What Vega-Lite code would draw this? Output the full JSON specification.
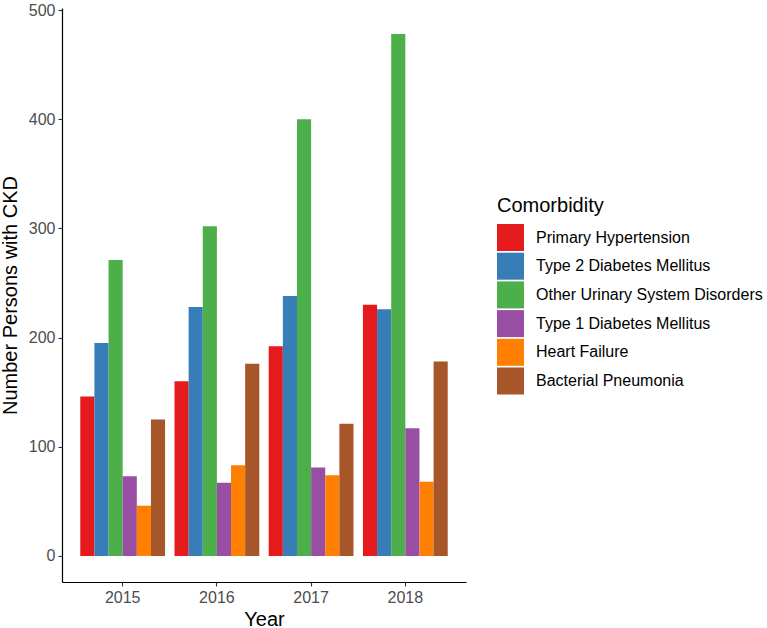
{
  "$schema": "https://vega.github.io/schema/vega-lite/v6.json",
  "width": 404,
  "height": 574,
  "autosize": {"type": "none"},
  "padding": {"left": 62, "top": 8, "right": 301, "bottom": 46},
  "background": "white",
  "config": {
    "font": "Liberation Sans",
    "view": {"stroke": null},
    "axis": {"grid": false, "domainColor": "black", "domainWidth": 1.2, "tickColor": "#333333", "tickWidth": 1.1, "tickSize": 4, "labelColor": "#4D4D4D", "labelFontSize": 16, "titleFontSize": 20, "titleFontWeight": "normal", "titleColor": "black", "labelFont": "Liberation Sans", "titleFont": "Liberation Sans"}
  },
  "data": {
    "values": [
      {"Year": "2015", "Comorbidity": "Primary Hypertension", "n": 146},
      {"Year": "2015", "Comorbidity": "Type 2 Diabetes Mellitus", "n": 195},
      {"Year": "2015", "Comorbidity": "Other Urinary System Disorders", "n": 271},
      {"Year": "2015", "Comorbidity": "Type 1 Diabetes Mellitus", "n": 73},
      {"Year": "2015", "Comorbidity": "Heart Failure", "n": 46},
      {"Year": "2015", "Comorbidity": "Bacterial Pneumonia", "n": 125},
      {"Year": "2016", "Comorbidity": "Primary Hypertension", "n": 160},
      {"Year": "2016", "Comorbidity": "Type 2 Diabetes Mellitus", "n": 228},
      {"Year": "2016", "Comorbidity": "Other Urinary System Disorders", "n": 302},
      {"Year": "2016", "Comorbidity": "Type 1 Diabetes Mellitus", "n": 67},
      {"Year": "2016", "Comorbidity": "Heart Failure", "n": 83},
      {"Year": "2016", "Comorbidity": "Bacterial Pneumonia", "n": 176},
      {"Year": "2017", "Comorbidity": "Primary Hypertension", "n": 192},
      {"Year": "2017", "Comorbidity": "Type 2 Diabetes Mellitus", "n": 238},
      {"Year": "2017", "Comorbidity": "Other Urinary System Disorders", "n": 400},
      {"Year": "2017", "Comorbidity": "Type 1 Diabetes Mellitus", "n": 81},
      {"Year": "2017", "Comorbidity": "Heart Failure", "n": 74},
      {"Year": "2017", "Comorbidity": "Bacterial Pneumonia", "n": 121},
      {"Year": "2018", "Comorbidity": "Primary Hypertension", "n": 230},
      {"Year": "2018", "Comorbidity": "Type 2 Diabetes Mellitus", "n": 226},
      {"Year": "2018", "Comorbidity": "Other Urinary System Disorders", "n": 478},
      {"Year": "2018", "Comorbidity": "Type 1 Diabetes Mellitus", "n": 117},
      {"Year": "2018", "Comorbidity": "Heart Failure", "n": 68},
      {"Year": "2018", "Comorbidity": "Bacterial Pneumonia", "n": 178}
    ]
  },
  "mark": {"type": "bar"},
  "encoding": {
    "x": {
      "field": "Year", "type": "nominal",
      "scale": {"paddingInner": 0.1, "paddingOuter": 0.194},
      "axis": {"labelAngle": 0, "labelPadding": 3, "titlePadding": 4, "title": "Year"}
    },
    "xOffset": {
      "field": "Comorbidity", "type": "nominal",
      "sort": ["Primary Hypertension", "Type 2 Diabetes Mellitus", "Other Urinary System Disorders", "Type 1 Diabetes Mellitus", "Heart Failure", "Bacterial Pneumonia"],
      "scale": {"paddingInner": 0, "paddingOuter": 0}
    },
    "y": {
      "field": "n", "type": "quantitative",
      "scale": {"domain": [-23.9, 501.9], "nice": false, "zero": false},
      "axis": {"values": [0, 100, 200, 300, 400, 500], "title": "Number Persons with CKD", "labelPadding": 3, "titlePadding": 8}
    },
    "color": {
      "field": "Comorbidity", "type": "nominal",
      "sort": ["Primary Hypertension", "Type 2 Diabetes Mellitus", "Other Urinary System Disorders", "Type 1 Diabetes Mellitus", "Heart Failure", "Bacterial Pneumonia"],
      "scale": {"range": ["#E41A1C", "#377EB8", "#4DAF4A", "#984EA3", "#FF7F00", "#A65628"]},
      "legend": {
        "orient": "none", "legendX": 435, "legendY": 188, "padding": 0,
        "title": "Comorbidity", "titleFontSize": 20, "titleFontWeight": "normal", "titleColor": "black", "titlePadding": 8, "titleFont": "Liberation Sans",
        "labelFontSize": 16, "labelColor": "black", "labelOffset": 12, "labelFont": "Liberation Sans", "labelLimit": 400,
        "symbolType": "square", "symbolSize": 729, "symbolStrokeWidth": 0, "symbolOpacity": 1, "rowPadding": 1.7
      }
    }
  }
}
